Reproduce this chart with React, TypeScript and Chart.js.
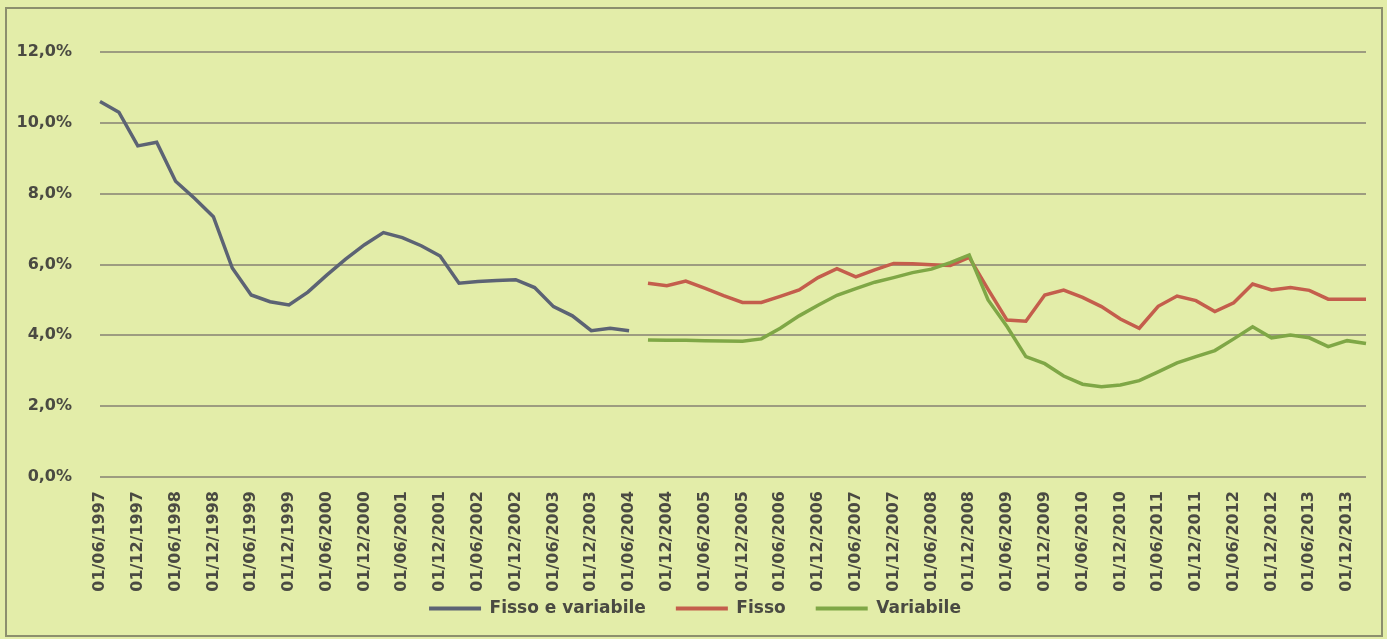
import { useEffect, useRef } from 'react';
import { Chart, registerables } from 'chart.js';

Chart.register(...registerables);

// Quarterly categories (01/MM/YYYY)
const categories = [
  '01/06/1997', '01/09/1997', '01/12/1997', '01/03/1998', '01/06/1998', '01/09/1998', '01/12/1998',
  '01/03/1999', '01/06/1999', '01/09/1999', '01/12/1999', '01/03/2000', '01/06/2000', '01/09/2000', '01/12/2000',
  '01/03/2001', '01/06/2001', '01/09/2001', '01/12/2001', '01/03/2002', '01/06/2002', '01/09/2002', '01/12/2002',
  '01/03/2003', '01/06/2003', '01/09/2003', '01/12/2003', '01/03/2004', '01/06/2004', '01/09/2004', '01/12/2004',
  '01/03/2005', '01/06/2005', '01/09/2005', '01/12/2005', '01/03/2006', '01/06/2006', '01/09/2006', '01/12/2006',
  '01/03/2007', '01/06/2007', '01/09/2007', '01/12/2007', '01/03/2008', '01/06/2008', '01/09/2008', '01/12/2008',
  '01/03/2009', '01/06/2009', '01/09/2009', '01/12/2009', '01/03/2010', '01/06/2010', '01/09/2010', '01/12/2010',
  '01/03/2011', '01/06/2011', '01/09/2011', '01/12/2011', '01/03/2012', '01/06/2012', '01/09/2012', '01/12/2012',
  '01/03/2013', '01/06/2013', '01/09/2013', '01/12/2013', '01/03/2014',
];

// Labels shown on the x axis (every six months)
const tickLabels = [
  '01/06/1997', '01/12/1997', '01/06/1998', '01/12/1998', '01/06/1999', '01/12/1999', '01/06/2000', '01/12/2000',
  '01/06/2001', '01/12/2001', '01/06/2002', '01/12/2002', '01/06/2003', '01/12/2003', '01/06/2004', '01/12/2004',
  '01/06/2005', '01/12/2005', '01/06/2006', '01/12/2006', '01/06/2007', '01/12/2007', '01/06/2008', '01/12/2008',
  '01/06/2009', '01/12/2009', '01/06/2010', '01/12/2010', '01/06/2011', '01/12/2011', '01/06/2012', '01/12/2012',
  '01/06/2013', '01/12/2013',
];

// "Fisso e variabile": 01/06/1997 .. 01/06/2004
const fissoEVariabile = [
  10.6, 10.3, 9.35, 9.45, 8.35, 7.87, 7.35, 5.9, 5.14, 4.95,
  4.86, 5.22, 5.7, 6.15, 6.56, 6.9, 6.76, 6.53, 6.24, 5.47,
  5.52, 5.55, 5.57, 5.35, 4.81, 4.55, 4.13, 4.2, 4.13,
];

// "Fisso": 01/09/2004 .. 01/03/2014
const fisso = [
  5.47, 5.4, 5.53, 5.33, 5.12, 4.93, 4.93, 5.1, 5.28, 5.63,
  5.88, 5.65, 5.85, 6.03, 6.02, 5.99, 5.97, 6.2, 5.3, 4.43,
  4.4, 5.14, 5.28, 5.07, 4.81, 4.46, 4.2, 4.82, 5.11, 4.98,
  4.67, 4.92, 5.45, 5.28, 5.35, 5.27, 5.02, 5.02, 5.02,
];

// "Variabile": 01/09/2004 .. 01/03/2014
const variabile = [
  3.87, 3.86, 3.86, 3.85, 3.84, 3.83, 3.9, 4.2, 4.55, 4.85,
  5.13, 5.32, 5.5, 5.63, 5.77, 5.87, 6.05, 6.27, 5.0, 4.25,
  3.4, 3.2, 2.85, 2.62, 2.55, 2.6, 2.72, 2.97, 3.22, 3.4,
  3.57, 3.9, 4.24, 3.93, 4.01, 3.93, 3.68, 3.85, 3.77,
];

const yMin = 0;
const yMax = 12;
const yStep = 2;

const paperPlugin = {
  id: 'paper',
  beforeDraw(chart: any) {
    const { ctx, width, height } = chart;
    ctx.save();
    ctx.fillStyle = '#e3eda9';
    ctx.fillRect(0, 0, width, height);
    ctx.strokeStyle = '#8c8f6d';
    ctx.lineWidth = 2;
    ctx.strokeRect(6, 8, 1376, 628);
    ctx.restore();
  },
};

export default function App() {
  const canvasRef = useRef<HTMLCanvasElement>(null);

  useEffect(() => {
    document.body.style.margin = '0';
    const n = categories.length;
    const blueData = [...fissoEVariabile, ...Array(n - fissoEVariabile.length).fill(null)];
    const redData = [...Array(n - fisso.length).fill(null), ...fisso];
    const greenData = [...Array(n - variabile.length).fill(null), ...variabile];

    const textColor = '#4a4a42';
    const chart = new Chart(canvasRef.current as HTMLCanvasElement, {
      type: 'line',
      data: {
        labels: categories,
        datasets: [
          {
            label: 'Fisso e variabile',
            data: blueData,
            borderColor: '#5c6374',
            backgroundColor: '#5c6374',
            borderWidth: 3.5,
            pointRadius: 0,
            tension: 0,
            order: 2,
          },
          {
            label: 'Fisso',
            data: redData,
            borderColor: '#c45e4c',
            backgroundColor: '#c45e4c',
            borderWidth: 3.5,
            pointRadius: 0,
            tension: 0,
            order: 1,
          },
          {
            label: 'Variabile',
            data: greenData,
            borderColor: '#7fa746',
            backgroundColor: '#7fa746',
            borderWidth: 3.5,
            pointRadius: 0,
            tension: 0,
            order: 0,
          },
        ],
      },
      options: {
        responsive: false,
        animation: false,
        layout: { padding: { left: 24, right: 21, top: 52, bottom: 12 } },
        plugins: {
          tooltip: { enabled: false },
          legend: {
            position: 'bottom',
            labels: {
              color: textColor,
              font: { family: 'DejaVu Sans', size: 17, weight: 'bold' },
              boxWidth: 52,
              boxHeight: 4,
              padding: 30,
              sort: (a: any, b: any) => a.datasetIndex - b.datasetIndex,
              generateLabels: (c: any) =>
                Chart.defaults.plugins.legend.labels
                  .generateLabels(c)
                  .map((l: any) => ({ ...l, lineWidth: 0 })),
            },
          },
        },
        scales: {
          x: {
            type: 'category',
            offset: false,
            grid: { display: false, drawTicks: false },
            border: { display: false },
            ticks: {
              autoSkip: false,
              maxRotation: 90,
              minRotation: 90,
              padding: 14,
              color: textColor,
              font: { family: 'DejaVu Sans', size: 16, weight: 'bold' },
              callback: (_v: any, i: number) =>
                tickLabels.includes(categories[i]) ? categories[i] : '',
            },
            afterFit: (s: any) => {
              s.height = 93;
              s.paddingLeft = 0;
              s.paddingRight = 0;
              s._computeLabelArea = () => undefined;
            },
          },
          y: {
            min: yMin,
            max: yMax,
            grid: { color: '#9d9c80', lineWidth: 2, drawTicks: false },
            border: { display: false },
            ticks: {
              stepSize: yStep,
              padding: 28,
              color: textColor,
              font: { family: 'DejaVu Sans', size: 16, weight: 'bold' },
              callback: (v: any) => Number(v).toFixed(1).replace('.', ',') + '%',
            },
            afterFit: (s: any) => {
              s.width = 76;
              s._computeLabelArea = () => undefined;
            },
          },
        },
      },
      plugins: [paperPlugin],
    } as any);

    return () => chart.destroy();
  }, []);

  return (
    <div style={{ position: 'fixed', left: 0, top: 0, width: 1387, height: 639 }}>
      <canvas ref={canvasRef} width={1387} height={639} style={{ display: 'block' }} />
    </div>
  );
}
